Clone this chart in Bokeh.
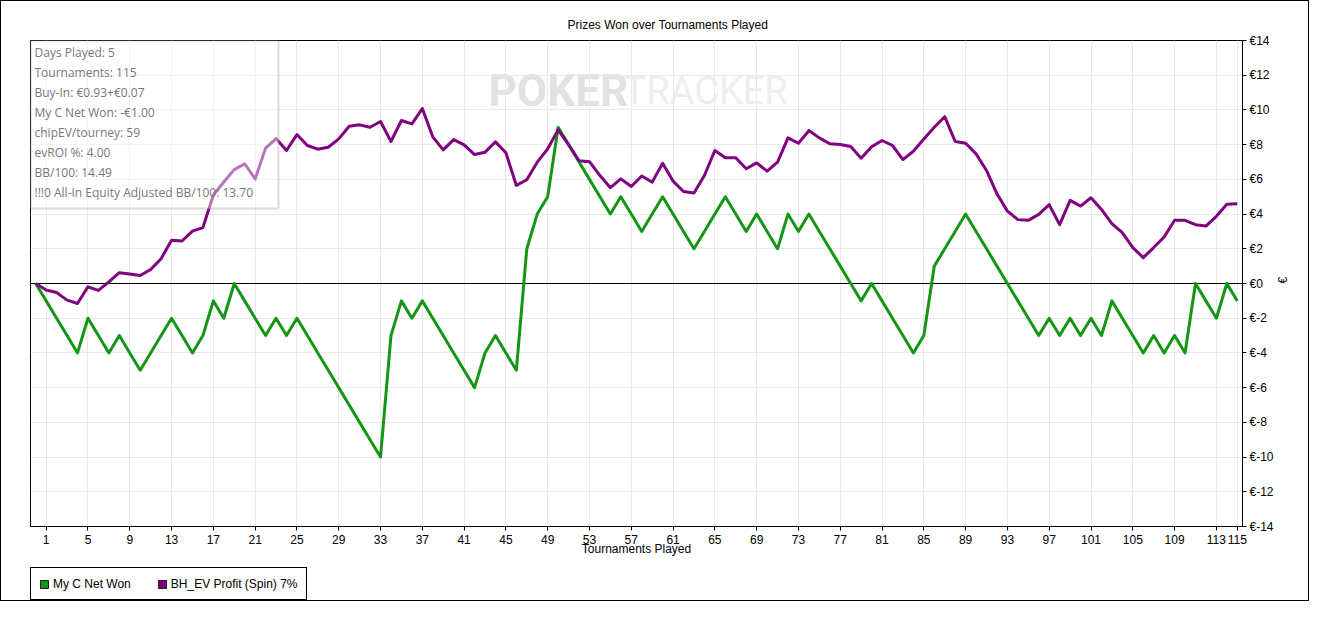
import math
from bokeh.plotting import figure
from bokeh.layouts import column
from bokeh.models import (Range1d, FixedTicker, Span, BoxAnnotation, Label,
                          Legend, LegendItem, Title)
from bokeh.embed import file_html
from bokeh.resources import INLINE

# ---------------- data ----------------
tournaments = list(range(0, 116))

net_won = [0, -1, -2, -3, -4, -2, -3, -4, -3, -4,
           -5, -4, -3, -2, -3, -4, -3, -1, -2, 0,
           -1, -2, -3, -2, -3, -2, -3, -4, -5, -6,
           -7, -8, -9, -10, -3, -1, -2, -1, -2, -3,
           -4, -5, -6, -4, -3, -4, -5, 2, 4, 5,
           9, 8, 7, 6, 5, 4, 5, 4, 3, 4,
           5, 4, 3, 2, 3, 4, 5, 4, 3, 4,
           3, 2, 4, 3, 4, 3, 2, 1, 0, -1,
           0, -1, -2, -3, -4, -3, 1, 2, 3, 4,
           3, 2, 1, 0, -1, -2, -3, -2, -3, -2,
           -3, -2, -3, -1, -2, -3, -4, -3, -4, -3,
           -4, 0, -1, -2, 0, -1]

bh_ev_profit = [0.0, -0.37, -0.52, -0.96, -1.15, -0.19, -0.40, 0.09, 0.62, 0.55,
                0.46, 0.81, 1.43, 2.49, 2.45, 3.02, 3.22, 5.10, 5.85, 6.56,
                6.90, 6.02, 7.80, 8.35, 7.66, 8.58, 7.95, 7.74, 7.85, 8.33,
                9.06, 9.14, 9.00, 9.33, 8.18, 9.39, 9.20, 10.08, 8.45, 7.70,
                8.29, 7.99, 7.43, 7.56, 8.16, 7.53, 5.65, 5.98, 6.99, 7.76,
                8.85, 8.00, 7.07, 7.02, 6.22, 5.52, 6.03, 5.59, 6.19, 5.84,
                6.93, 5.90, 5.30, 5.21, 6.22, 7.66, 7.24, 7.24, 6.61, 6.95,
                6.47, 6.99, 8.39, 8.08, 8.81, 8.39, 8.05, 8.01, 7.89, 7.22,
                7.88, 8.24, 7.95, 7.14, 7.62, 8.33, 9.00, 9.61, 8.18, 8.08,
                7.47, 6.51, 5.17, 4.17, 3.68, 3.64, 3.98, 4.54, 3.39, 4.79,
                4.46, 4.94, 4.27, 3.45, 2.93, 2.07, 1.49, 2.07, 2.68, 3.64,
                3.64, 3.39, 3.31, 3.87, 4.56, 4.60]

x_ticks = [1, 5, 9, 13, 17, 21, 25, 29, 33, 37, 41, 45, 49, 53, 57, 61, 65, 69,
           73, 77, 81, 85, 89, 93, 97, 101, 105, 109, 113, 115]
y_ticks = [-14, -12, -10, -8, -6, -4, -2, 0, 2, 4, 6, 8, 10, 12, 14]
y_tick_labels = ["€-14", "€-12", "€-10", "€-8", "€-6", "€-4", "€-2", "€0",
                 "€2", "€4", "€6", "€8", "€10", "€12", "€14"]

info_lines = ["Days Played: 5",
              "Tournaments: 115",
              "Buy-In: €0.93+€0.07",
              "My C Net Won: -€1.00",
              "chipEV/tourney: 59",
              "evROI %: 4.00",
              "BB/100: 14.49",
              "!!!0 All-In Equity Adjusted BB/100: 13.70"]

series_names = ["My C Net Won", "BH_EV Profit (Spin) 7%"]
chart_title = "Prizes Won over Tournaments Played"
x_title = "Tournaments Played"
y_title = "€"

# ---------------- style / layout ----------------
GREEN = "#149614"
PURPLE = "#800080"
AXIS_FONT = "Liberation Sans"
W = 1307
H1 = 562            # main chart
H2 = 599 - H1       # legend strip
ML, MT = 29, 39
MR = W - 1241
MB = H1 - 525
X0, X1 = -0.5, 115.5
Y0, Y1 = -14, 14
frame_w = W - ML - MR
frame_h = H1 - MT - MB
px_x = frame_w / (X1 - X0)
px_y = frame_h / (Y1 - Y0)
REF_LEFT, REF_TOP = 30, 40


def dx(sx):
    return X0 + (sx - REF_LEFT) / px_x


def dy(sy):
    return Y1 - (sy - REF_TOP) / px_y


p = figure(width=W, height=H1, output_backend="svg", toolbar_location=None,
           x_range=Range1d(X0, X1), y_range=Range1d(Y0, Y1),
           y_axis_location="right",
           min_border_left=ML, min_border_right=MR,
           min_border_top=MT, min_border_bottom=MB)
p.background_fill_color = "white"
p.border_fill_color = "white"
p.outline_line_color = "black"
p.outline_line_width = 1
p.outline_line_alpha = 1

p.title = Title(text=chart_title, align="left", offset=537,
                text_font=AXIS_FONT, text_font_size="12px",
                text_font_style="normal", text_color="black", standoff=18)

# axes
xt = FixedTicker(ticks=x_ticks)
yt = FixedTicker(ticks=y_ticks)
p.xaxis.ticker = xt
p.yaxis.ticker = yt
p.xgrid.ticker = xt
p.ygrid.ticker = yt
p.yaxis.major_label_overrides = {t: lab for t, lab in zip(y_ticks, y_tick_labels)}
for ax in (p.xaxis[0], p.yaxis[0]):
    ax.axis_line_color = "black"
    ax.major_tick_line_color = "black"
    ax.major_tick_out = 4
    ax.major_tick_in = 0
    ax.minor_tick_line_color = None
    ax.major_label_text_font = AXIS_FONT
    ax.major_label_text_font_size = "12px"
    ax.major_label_text_color = "black"
    ax.axis_label_text_font = AXIS_FONT
    ax.axis_label_text_font_size = "12px"
    ax.axis_label_text_font_style = "normal"
    ax.axis_label_text_color = "black"
p.xaxis.major_label_standoff = 4
p.yaxis.major_label_standoff = 3
p.xaxis.axis_label = x_title
p.xaxis.axis_label_standoff = -5
p.yaxis.axis_label = y_title
p.yaxis.axis_label_standoff = 6
try:
    p.yaxis[0].axis_label_orientation = math.pi / 2
except Exception:
    pass

for g in (p.xgrid[0], p.ygrid[0]):
    g.grid_line_color = "#e9e9e9"
    g.grid_line_width = 1

# watermark
p.add_layout(Label(x=dx(488), y=dy(90), text="POKER", text_font="Roboto",
                   text_font_size="44px", text_font_style="bold", text_color="#e2e2e2",
                   text_baseline="middle", level="image"))
p.add_layout(Label(x=dx(623), y=dy(90), text="TRACKER", text_font="Roboto",
                   text_font_size="38px", text_font_style="normal", text_color="#eeeeee",
                   text_baseline="middle", level="image"))

# zero line
p.add_layout(Span(location=0, dimension="width", line_color="black",
                  line_width=1, level="underlay"))

# series
p.line(tournaments, net_won, line_color=GREEN, line_width=3, line_join="round")
p.line(tournaments, bh_ev_profit, line_color=PURPLE, line_width=3, line_join="round")

# info box
p.add_layout(BoxAnnotation(left=X0, right=dx(278), top=Y1, bottom=dy(208),
                           fill_color="white", fill_alpha=0.45,
                           line_color="#8a8a8a", line_width=2))
for i, line in enumerate(info_lines):
    p.add_layout(Label(x=dx(34), y=dy(51.5 + 20 * i), text=line,
                       text_font="Open Sans", text_font_size="12px",
                       text_color="#777777", text_baseline="middle"))

# ---------------- legend strip ----------------
leg_top = 567 - 1 - H1
p2 = figure(width=W, height=H2, output_backend="svg", toolbar_location=None,
            x_range=Range1d(10, 11), y_range=Range1d(10, 11),
            x_axis_location=None, y_axis_location=None,
            min_border_left=ML, min_border_right=0,
            min_border_top=leg_top, min_border_bottom=0)
p2.grid.visible = False
p2.outline_line_color = None
p2.background_fill_color = "white"
p2.border_fill_color = "white"

# swatch renderers for the legend (zero-size, outside the strip's view)
sw_green = p2.quad(left=[0], right=[0], top=[0], bottom=[0], fill_color=GREEN,
                   line_color="#1e1e1e", line_width=1)
sw_purple = p2.quad(left=[0], right=[0], top=[0], bottom=[0], fill_color=PURPLE,
                    line_color="#1e1e1e", line_width=1)
legend = Legend(items=[LegendItem(label=series_names[0], renderers=[sw_green]),
                       LegendItem(label=series_names[1], renderers=[sw_purple])],
                location="top_left", orientation="horizontal",
                border_line_color="black", border_line_width=1, border_line_alpha=1,
                background_fill_color="white", background_fill_alpha=1,
                padding=8, spacing=26, margin=0,
                glyph_width=10, glyph_height=10, label_standoff=4,
                label_height=15, label_text_font=AXIS_FONT,
                label_text_font_size="12px", label_text_color="black",
                label_text_baseline="middle")
p2.add_layout(legend)

layout = column(p, p2, spacing=0, styles={"border": "1px solid black"})

open("out.html", "w").write(file_html(layout, INLINE))
